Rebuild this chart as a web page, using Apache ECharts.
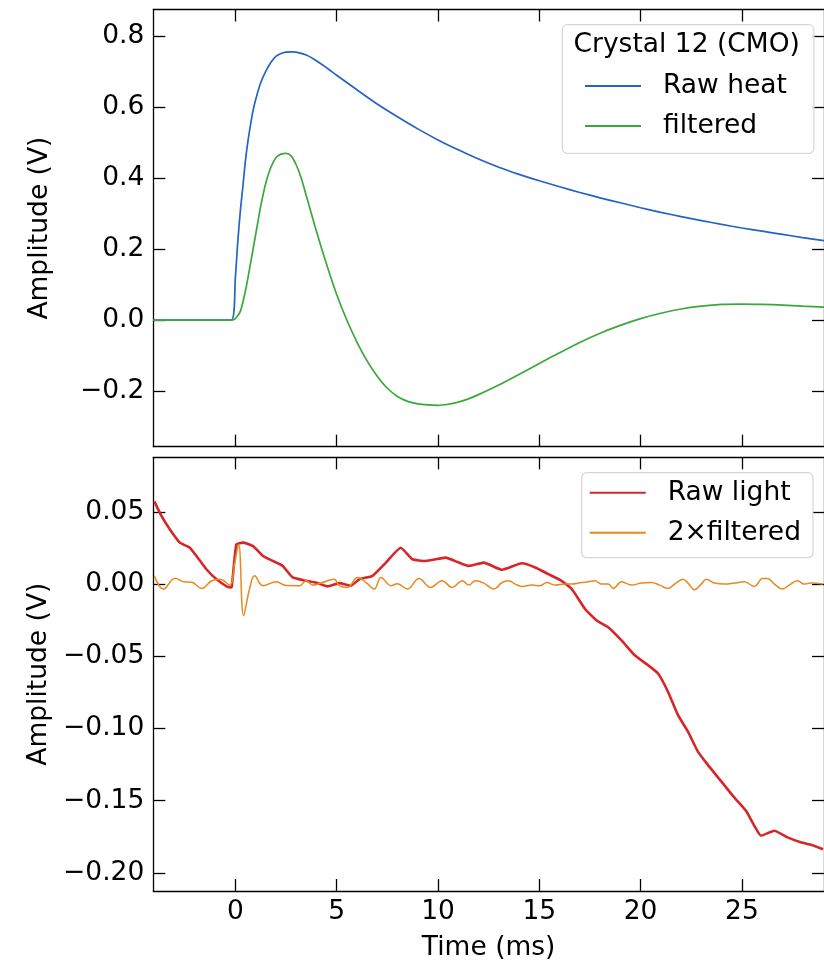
<!DOCTYPE html>
<html>
<head>
<meta charset="utf-8">
<script src="https://cdn.jsdelivr.net/npm/echarts@6/dist/echarts.min.js"></script>
<style>
  html, body { margin: 0; padding: 0; background: #fff; }
  #chart { width: 824px; height: 963px; }
</style>
</head>
<body>
<div id="chart"></div>
<script>
// Heat channel (top panel)
const heatT    = [-4.05, -0.2, 0, 0.125, 0.25, 0.375, 0.5, 0.625, 0.75, 0.875, 1.0, 1.25, 1.5, 1.75, 2.0, 2.25, 2.5, 2.75, 3.0, 3.5, 4.0, 4.5, 5, 6, 7, 8, 9, 10, 11, 12, 13, 14, 15, 16, 17, 18, 19, 20, 21, 22, 23, 24, 25, 26, 27, 28, 29.1];
const rawHeat  = [0, 0, 0.12, 0.225, 0.31, 0.378, 0.45, 0.505, 0.55, 0.59, 0.62, 0.668, 0.70, 0.725, 0.742, 0.75, 0.754, 0.755, 0.754, 0.746, 0.73, 0.71, 0.689, 0.648, 0.608, 0.572, 0.538, 0.507, 0.479, 0.453, 0.43, 0.41, 0.392, 0.375, 0.359, 0.344, 0.33, 0.316, 0.303, 0.291, 0.28, 0.269, 0.259, 0.25, 0.241, 0.232, 0.223];
const filtT    = [-4.05, -0.2, 0, 0.25, 0.5, 0.75, 1.0, 1.25, 1.5, 1.75, 2.0, 2.25, 2.5, 2.75, 3.0, 3.25, 3.5, 3.75, 4.0, 4.5, 5.0, 5.5, 6.0, 6.5, 7.0, 7.5, 8.0, 8.5, 9.0, 9.5, 10, 10.5, 11, 11.5, 12, 13, 14, 15, 16, 17, 18, 19, 20, 21, 22, 23, 24, 25, 26, 27, 28, 29.1];
const filtHeat = [0, 0, 0.004, 0.025, 0.083, 0.16, 0.24, 0.32, 0.385, 0.43, 0.457, 0.467, 0.469, 0.462, 0.437, 0.4, 0.35, 0.3, 0.25, 0.157, 0.072, 0.0, -0.062, -0.115, -0.158, -0.192, -0.215, -0.229, -0.236, -0.239, -0.24, -0.237, -0.231, -0.222, -0.21, -0.183, -0.153, -0.122, -0.092, -0.063, -0.037, -0.015, 0.004, 0.019, 0.031, 0.039, 0.044, 0.045, 0.044, 0.042, 0.039, 0.036];

// Light channel (bottom panel)
const lightT   = [-4.0, -3.64, -3.23, -2.74, -2.25, -1.92, -1.43, -0.93, -0.28, -0.18, 0.05, 0.37, 0.87, 1.36, 1.85, 2.34, 2.83, 3.49, 3.98, 4.55, 5.13, 5.7, 6.12, 6.77, 7.43, 8.16, 8.74, 9.39, 10.37, 11.03, 11.52, 12.26, 13.16, 14.14, 14.8, 15.45, 16.1, 16.6, 17.26, 17.83, 18.4, 19.06, 19.71, 20.37, 20.86, 21.35, 21.84, 22.33, 22.82, 23.31, 23.97, 24.63, 25.2, 25.61, 25.94, 26.6, 27.25, 27.9, 28.56, 29.0];
const rawLight = [0.0573, 0.047, 0.0378, 0.0287, 0.0252, 0.0195, 0.0103, 0.0034, -0.0023, -0.002, 0.0275, 0.0287, 0.0263, 0.0195, 0.016, 0.0126, 0.0046, 0.0023, 0.0011, -0.0016, 0.0007, -0.0011, 0.0034, 0.0057, 0.0149, 0.0252, 0.0172, 0.016, 0.0183, 0.0149, 0.0126, 0.0149, 0.0099, 0.0144, 0.0115, 0.0069, 0.0023, -0.0034, -0.0172, -0.0252, -0.0298, -0.039, -0.0493, -0.0562, -0.0619, -0.0745, -0.0906, -0.102, -0.1158, -0.125, -0.1364, -0.1479, -0.157, -0.1673, -0.1742, -0.1708, -0.1754, -0.1788, -0.1811, -0.1836];
const lfT      = [-4.0, -3.55, -2.97, -2.56, -2.15, -1.66, -1.17, -0.75, -0.28, -0.03, 0.16, 0.41, 0.7, 0.95, 1.36, 2.02, 2.5, 3.17, 3.49, 3.82, 4.22, 4.88, 5.13, 5.53, 6.03, 6.45, 6.85, 7.19, 7.68, 8.0, 8.49, 9.06, 9.63, 10.2, 10.7, 11.2, 11.52, 11.85, 12.26, 12.75, 13.16, 13.49, 13.81, 14.14, 14.63, 15.04, 15.37, 15.78, 16.27, 16.6, 17.09, 17.42, 17.75, 18.07, 18.4, 18.65, 19.06, 19.55, 20.04, 20.53, 20.94, 21.35, 21.68, 22.09, 22.34, 22.66, 22.99, 23.24, 23.65, 24.14, 24.63, 25.12, 25.61, 26.02, 26.27, 26.6, 27.0, 27.33, 27.74, 28.07, 28.4, 29.0];
const filtLight= [0.0057, -0.0034, 0.0041, 0.0017, 0.0013, -0.003, 0.0023, 0.0034, -0.0007, 0.015, 0.0275, -0.0218, -0.0034, 0.0057, -0.0011, 0.0016, -0.001, -0.0011, 0.0023, -0.0007, 0.0007, 0.0034, -0.0011, -0.0023, 0.0046, 0.0011, -0.0034, 0.0046, -0.0011, 0.0002, -0.0034, 0.0039, -0.0023, 0.0023, -0.0023, 0.0023, -0.0007, 0.0023, 0.0007, -0.0034, 0.0011, 0.0023, 0, -0.0016, -0.0007, -0.0011, 0.0011, -0.0007, 0, 0, 0.0011, 0.0016, 0.0023, 0, 0, -0.003, 0.0016, -0.0007, 0.0007, 0.0011, -0.0007, -0.003, 0, 0.0034, 0.0007, -0.0039, 0, 0.0034, 0.0007, 0, 0.0007, 0.0016, -0.0016, 0.0039, 0.0039, 0, -0.0034, -0.0007, 0.0023, 0, 0.0007, 0];

// Tick positions
const xTicks      = [0, 5, 10, 15, 20, 25];
const yTicksTop   = [-0.2, 0, 0.2, 0.4, 0.6, 0.8];
const yTicksBot   = [-0.2, -0.15, -0.1, -0.05, 0, 0.05];

const X_MIN = -4.05, X_MAX = 29.05;
const FONT = 'DejaVu Sans';
const FS = 26.5;

const zip = (a, b) => a.map((v, i) => [v, b[i]]);
const fmt = d => v => (v < 0 ? '\u2212' : '') + Math.abs(v).toFixed(d);

const spine = { show: true, onZero: false, lineStyle: { color: '#000', width: 1.3 } };
const tick = vals => ({ show: true, inside: true, length: 12, customValues: vals, lineStyle: { color: '#000', width: 1.3 } });
const noLabel = { show: false };
const labelStyle = { color: '#000', fontFamily: FONT, fontSize: FS };

function xAxis(grid, pos, labelled) {
  return {
    type: 'value', gridIndex: grid, position: pos, min: X_MIN, max: X_MAX,
    axisLine: spine, axisTick: tick(xTicks), splitLine: { show: false },
    axisLabel: labelled ? Object.assign({ show: true, margin: 8, customValues: xTicks }, labelStyle) : noLabel,
    name: labelled ? 'Time (ms)' : '', nameLocation: 'middle', nameGap: 44,
    nameTextStyle: labelStyle
  };
}
function yAxis(grid, pos, min, max, ticks, dec, labelled) {
  return {
    type: 'value', gridIndex: grid, position: pos, min: min, max: max,
    axisLine: spine, axisTick: tick(ticks), splitLine: { show: false },
    axisLabel: labelled ? Object.assign({ show: true, margin: 9, customValues: ticks, formatter: fmt(dec) }, labelStyle) : noLabel,
    name: labelled ? 'Amplitude (V)' : '', nameLocation: 'middle', nameGap: 100,
    nameRotate: 90, nameTextStyle: labelStyle
  };
}

const legendText = Object.assign({ lineHeight: 30, padding: [0, 0, 0, 17] }, labelStyle);

const option = {
  animation: false,
  backgroundColor: '#fff',
  grid: [
    { left: 153.3, top: 9.5, right: -3, height: 437.2 },
    { left: 153.3, top: 457.3, right: -3, height: 436.7 }
  ],
  xAxis: [xAxis(0, 'bottom', false), xAxis(0, 'top', false), xAxis(1, 'bottom', true), xAxis(1, 'top', false)],
  yAxis: [
    yAxis(0, 'left', -0.3565, 0.874, yTicksTop, 1, true),
    yAxis(0, 'right', -0.3565, 0.874, yTicksTop, 1, false),
    yAxis(1, 'left', -0.2125, 0.0878, yTicksBot, 2, true),
    yAxis(1, 'right', -0.2125, 0.0878, yTicksBot, 2, false)
  ],
  legend: [
    {
      data: ['Raw heat', 'filtered'], orient: 'vertical', left: 585, top: 71, z: 20,
      icon: 'rect', padding: 0, itemGap: 10, itemWidth: 56, itemHeight: 2, textStyle: legendText
    },
    {
      data: ['Raw light', '2\u00d7filtered'], orient: 'vertical', left: 581.7, top: 472.7, z: 20,
      icon: 'rect', padding: [5, 12, 10, 8], itemGap: 10, itemWidth: 56, itemHeight: 2, textStyle: legendText,
      backgroundColor: 'rgba(255,255,255,0.8)', borderColor: '#d6d6d6', borderWidth: 1.2, borderRadius: 5
    }
  ],
  graphic: [
    {
      type: 'rect', left: 561.7, top: 24, z: 1,
      shape: { width: 251.6, height: 128.7, r: 5 },
      style: { fill: 'rgba(255,255,255,0.8)', stroke: '#d6d6d6', lineWidth: 1.2 }
    },
    {
      type: 'text', x: 686.7, y: 45, z: 21,
      style: { text: 'Crystal 12 (CMO)', fill: '#000', font: FS + 'px "' + FONT + '"', align: 'center', verticalAlign: 'middle' }
    }
  ],
  series: [
    { name: 'Raw heat', type: 'line', xAxisIndex: 0, yAxisIndex: 0, data: zip(heatT, rawHeat),
      symbol: 'none', smooth: 0.25, lineStyle: { color: '#2563c4', width: 1.7 }, itemStyle: { color: '#2563c4' } },
    { name: 'filtered', type: 'line', xAxisIndex: 0, yAxisIndex: 0, data: zip(filtT, filtHeat),
      symbol: 'none', smooth: 0.25, lineStyle: { color: '#3aa83a', width: 1.7 }, itemStyle: { color: '#3aa83a' } },
    { name: 'Raw light', type: 'line', xAxisIndex: 2, yAxisIndex: 2, data: zip(lightT, rawLight),
      symbol: 'none', smooth: 0.15, lineStyle: { color: '#d62728', width: 2.6 }, itemStyle: { color: '#d62728' } },
    { name: '2\u00d7filtered', type: 'line', xAxisIndex: 2, yAxisIndex: 2, data: zip(lfT, filtLight),
      symbol: 'none', smooth: 0.4, lineStyle: { color: '#e8891c', width: 1.5 }, itemStyle: { color: '#e8891c' } }
  ]
};

const chart = echarts.init(document.getElementById('chart'), null, { renderer: 'canvas' });
chart.setOption(option);
</script>
</body>
</html>
